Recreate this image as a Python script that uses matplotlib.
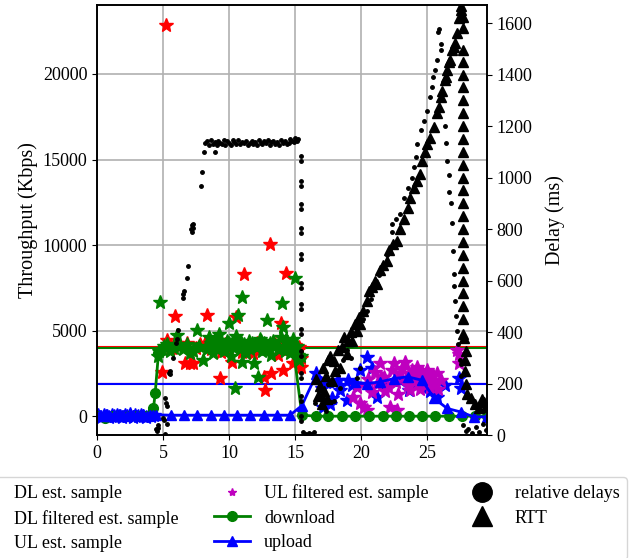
import matplotlib
matplotlib.use("Agg")
import matplotlib.pyplot as plt
from matplotlib.lines import Line2D

plt.rcParams['font.family'] = 'serif'
plt.rcParams['font.serif'] = ['Liberation Serif', 'DejaVu Serif']

# ---- DL est. sample (red stars, Kbps) ----
dl_est_t = [4.9, 5.2, 5.3, 5.5, 5.7, 5.9, 6.0, 6.3, 6.67, 6.8, 7.0, 7.3, 7.5, 7.8,
            8.2, 8.3, 8.6, 8.9, 9.3, 9.4, 9.7, 10.0, 10.2, 10.5, 10.8, 10.96, 11.1,
            11.4, 11.8, 12.1, 12.4, 12.6, 12.7, 12.9, 13.1, 13.2, 13.5, 13.7, 13.9,
            14.1, 14.3, 14.5, 14.85, 15.0, 15.2, 15.3, 15.4, 15.45]
dl_est_v = [2590, 22870, 4450, 3900, 3980, 5850, 4270, 4100, 3100, 4300, 3100, 3100,
            4000, 4200, 4270, 5900, 3950, 4100, 2220, 3760, 4200, 3950, 3180, 5770,
            4300, 3760, 8300, 4150, 3680, 4250, 3900, 2300, 1520, 4100, 10040, 2530,
            4200, 3570, 5460, 2690, 8380, 3900, 3100, 4150, 3860, 4040, 2880, 3400]

# ---- DL filtered est. sample (green stars, Kbps) ----
dl_filt_t = [4.6, 4.7, 4.77, 4.9, 5.1, 5.3, 5.5, 5.8, 6.04, 6.2, 6.5, 6.8, 7.0, 7.3,
             7.55, 7.7, 8.05, 8.3, 8.5, 8.6, 8.8, 8.9, 9.1, 9.2, 9.4, 9.6, 9.8, 9.95,
             10.1, 10.2, 10.45, 10.5, 10.7, 10.8, 10.96, 10.96, 11.1, 11.3, 11.5, 11.6,
             11.85, 12.0, 12.2, 12.3, 12.5, 12.6, 12.85, 13.0, 13.2, 13.3, 13.5, 13.7,
             13.9, 14.0, 14.1, 14.2, 14.4, 14.6, 14.8, 15.0, 15.1, 15.2, 15.3, 15.4,
             8.7, 9.0, 9.3, 9.7, 10.0, 10.4, 10.9, 11.2, 11.7, 12.1, 12.4, 12.8, 13.1,
             13.4, 13.8, 14.3, 14.5, 14.7]
dl_filt_v = [3500, 3800, 6690, 3900, 4100, 4200, 3800, 4000, 4740, 4100, 3900, 4200,
             3700, 3800, 5030, 4100, 3280, 3900, 4600, 4300, 3700, 4500, 3900, 4800,
             4200, 3800, 4400, 5420, 3500, 4300, 1620, 4680, 5900, 3900, 3180, 6980,
             4200, 3700, 4400, 3900, 3080, 4100, 2300, 4500, 3800, 4300, 5620, 4000,
             3600, 4400, 4100, 3900, 4600, 6590, 5230, 3800, 4300, 3700, 4500, 8050,
             4100, 3600, 3300, 3500,
             4000, 4200, 4450, 3950, 4300, 4000, 4350, 3850, 4250, 4050, 4400, 3900,
             4300, 4100, 3950, 4500, 4150, 4000]

# ---- UL est. sample (blue stars, Kbps) ----
ul_est_t = [0.1, 0.3, 0.5, 0.7, 0.9, 1.1, 1.3, 1.5, 1.7, 1.9, 2.1, 2.3, 2.5, 2.7, 2.9,
            3.1, 3.3, 3.5, 3.7, 3.9, 4.1, 4.3,
            16.6, 17.0, 17.1, 17.3, 17.65, 17.8, 18.2, 18.4, 18.9, 19.0, 19.3, 19.9,
            20.4, 20.8, 21.2, 21.8, 22.95, 23.6, 24.2, 24.6, 25.2, 25.7, 26.3, 27.35,
            27.5]
ul_est_v = [50, -20, 80, 30, -50, 60, 0, 90, 20, -40, 70, 10, 100, -30, 50,
            0, 80, 30, -20, 60, 40, 90,
            2500, 1620, 540, 2000, 740, 1050, 2100, 1520, 940, 2100, 1800, 2690,
            3470, 2790, 1130, 1900, 2100, 1520, 2000, 1710, 1500, 1130, 1800, 2220,
            1620]

# ---- UL filtered est. sample (magenta stars, Kbps) ----
ul_filt_t = [19.4, 19.7, 19.9, 20.2, 20.4, 20.5, 20.8, 21.0, 21.2, 21.4, 21.5, 21.7,
             21.8, 22.0, 22.2, 22.3, 22.45, 22.6, 22.7, 22.8, 22.95, 23.1, 23.3, 23.4,
             23.5, 23.7, 23.8, 23.9, 24.0, 24.2, 24.3, 24.4, 24.5, 24.6, 24.8, 24.9,
             25.0, 25.1, 25.2, 25.4, 25.5, 25.7, 25.8, 26.0, 27.25, 27.4, 27.4]
ul_filt_v = [1130, 1710, 760, 540, 350, 2200, 1420, 2600, 1900, 3080, 2300, 2300,
             1500, 1710, 540, 2700, 3080, 2000, 350, 1300, 2500, 2800, 3180, 2200,
             1800, 1520, 2700, 2500, 2000, 2890, 2300, 1600, 2100, 2600, 2400, 1900,
             2690, 2200, 1710, 2400, 2000, 2500, 1600, 2100, 3860, 3660, 3100]

# ---- download (green line, Kbps) ----
down_t = [0.0, 0.6, 1.2, 1.8, 2.4, 3.0, 3.6, 4.0, 4.27, 4.4, 4.65, 5.5, 6.5, 7.55,
          8.5, 9.5, 10.5, 11.5, 12.5, 13.5, 14.4, 14.9, 15.5, 16.6, 17.5, 18.5, 19.5,
          20.55, 21.6, 22.6, 23.6, 24.6, 25.6, 26.6, 27.6, 28.6, 29.5]
down_v = [0, -100, 0, 0, 0, 0, 0, 50, 450, 1330, 3670, 4050, 4050, 4050,
          4150, 4100, 4200, 4100, 4150, 4200, 4100, 3670, 60, 0, 0, 0, 0,
          0, 0, 0, 0, 0, 0, 0, 0, 0, 0]

# ---- upload (blue line, Kbps) ----
up_t = [0.0, 0.25, 0.5, 0.75, 1.0, 1.25, 1.5, 1.75, 2.0, 2.25, 2.5, 2.75, 3.0, 3.25,
        3.5, 3.75, 4.0, 4.25, 4.5, 5.6, 6.6, 7.6, 8.6, 9.6, 10.6, 11.6, 12.6, 13.6,
        14.6, 15.5, 16.6, 17.5, 18.4, 19.5, 20.4, 21.4, 22.45, 23.5, 24.6, 25.5,
        26.5, 27.5, 28.5, 29.5]
up_v = [20, 80, 0, 110, 40, 90, 10, 120, 60, 30, 100, 50, 70, 20, 110, 40, 90, 60,
        80, 60, 60, 60, 60, 60, 60, 60, 60, 60, 60, 620, 2450, 2000, 1810, 2000, 1910,
        2000, 2200, 2300, 2100, 1040, 450, 250, -40, -40]

# ---- reference levels (Kbps) ----
dl_est_level = 4060
dl_filt_level = 3960
ul_filt_level = 1960
ul_level = 1900

# ---- relative delays (black dots, ms) ----
rel_t = [4.5, 4.55, 4.6, 4.65, 5.0, 5.05, 5.15, 5.15, 5.2, 5.28, 5.3, 5.48, 5.53, 5.53,
         5.73, 5.98, 6.08, 6.16, 6.54, 6.5, 6.58, 6.8, 6.87,
         7.1, 7.15, 7.2, 7.25, 7.3, 7.88, 7.95, 8.1, 8.9,
         8.2, 8.35, 8.5, 8.6, 8.75, 8.9, 9.05, 9.15, 9.3, 9.45, 9.6, 9.7, 9.85, 10.0,
         10.15, 10.3, 10.4, 10.55, 10.7, 10.85, 11.0, 11.1, 11.25, 11.4, 11.55, 11.7,
         11.8, 11.95, 12.1, 12.25, 12.4, 12.5, 12.65, 12.8, 12.95, 13.1, 13.2, 13.35,
         13.5, 13.65, 13.8, 13.9, 14.05, 14.2, 14.35, 14.5, 14.6, 14.75, 14.9, 15.0,
         15.1, 15.2,
         15.45, 15.45, 15.45, 15.45, 15.45, 15.45, 15.45, 15.45, 15.45, 15.45, 15.45,
         15.45, 15.45, 15.45, 15.45, 15.45, 15.45, 15.45, 15.45, 15.45, 15.45, 15.45,
         15.45, 15.45,
         15.6, 15.8, 16.0, 16.2, 16.4,
         16.5, 16.8, 17.1, 17.3, 17.5, 17.7, 17.9, 18.1, 18.4, 18.6, 18.9, 19.2, 19.5,
         19.7, 19.9, 20.1, 20.4, 20.7, 21.0, 21.3, 21.6, 21.9, 22.2, 22.3, 22.3, 22.6,
         22.95, 23.2, 23.5, 23.8, 24.0, 24.1, 24.2, 24.5, 24.7, 25.0, 25.2, 25.36,
         25.45, 25.6, 25.7, 25.8, 25.85, 26.0, 26.05,
         26.3, 26.4, 26.5, 26.6, 26.65, 26.75, 26.85, 26.95, 27.0, 27.02, 27.1, 27.12,
         27.2, 27.3, 27.45, 27.5, 27.55,
         27.7, 27.9, 28.1, 28.4, 28.7, 28.9, 29.2, 29.4]
rel_ms = [25, 15, 40, 28, 67, 60, 4, 145, 126, 41, 113, 241, 249, 237,
          298, 359, 372, 408, 534, 548, 560, 610, 656,
          800, 815, 790, 820, 805, 968, 1020, 1100, 1100,
          1135, 1140, 1128, 1145, 1132, 1138, 1125, 1142, 1136, 1130, 1145, 1128, 1140,
          1133, 1126, 1144, 1137, 1131, 1146, 1129, 1139, 1134, 1141, 1127, 1136, 1143,
          1130, 1138, 1125, 1144, 1135, 1129, 1140, 1133, 1146, 1128, 1137, 1142, 1131,
          1139, 1126, 1144, 1134, 1140, 1129, 1136, 1150, 1143, 1138, 1152, 1140, 1148,
          1085, 1066, 988, 969, 899, 879, 805, 786, 704, 685, 591, 572, 510, 490,
          412, 393, 327, 307, 241, 222, 152, 132, 74, 54,
          10, 5, 8, 4, 12,
          124, 170, 144, 95, 200, 130, 132, 240, 183, 290, 330, 300, 390,
          222, 261, 450, 480, 530, 570, 620, 660, 700, 723, 787, 820, 840,
          860, 920, 960, 1000, 1039, 1078, 1132, 1183, 1221, 1260, 1311, 1350,
          1389, 1416, 1455, 1564, 1575, 1520, 1494,
          1200, 1136, 1066, 1008, 942, 900, 825, 716, 626, 580, 521, 463,
          405, 354, 290, 276, 230,
          40, 15, 25, 8, 30, 12, 43, 20]

# ---- RTT (black triangles, ms) ----
rtt_t = [16.6, 16.7, 16.9, 17.0, 17.1, 17.2, 17.3, 17.4, 17.5, 17.65, 17.8, 17.9,
         18.0, 18.2, 18.4, 18.5, 18.7, 18.9, 19.0, 19.2, 19.3, 19.5, 19.7, 19.8, 19.9,
         20.1, 20.4, 20.6, 20.8, 21.0, 21.2, 21.4, 21.6, 21.9, 22.1, 22.4, 22.7, 22.9,
         23.2, 23.5, 23.7, 24.0, 24.2, 24.4, 24.6, 24.8, 24.98, 25.2, 25.5, 25.7,
         25.85, 26.0, 26.1, 26.3, 26.4, 26.5, 26.6, 26.7, 26.85, 26.97, 27.1, 27.25,
         27.4, 27.5, 27.55,
         27.7, 27.7, 27.7, 27.7, 27.7, 27.7, 27.7, 27.7, 27.7, 27.7, 27.7, 27.7, 27.7,
         27.7, 27.7, 27.7, 27.7, 27.7, 27.7, 27.7, 27.7, 27.7, 27.7, 27.7, 27.7, 27.75,
         27.9, 27.8, 27.85, 27.9, 28.0, 28.3, 28.6, 28.9, 29.1, 29.3, 29.45]
rtt_ms = [218, 150, 190, 120, 261, 170, 230, 140, 290, 307, 210, 288,
          250, 330, 261, 340, 380, 315, 366, 400, 366, 430, 405, 460, 432,
          480, 521, 560, 575, 600, 587, 640, 660, 677, 720, 740, 755, 800,
          840, 883, 920, 961, 988, 1015, 1066, 1100, 1132, 1155, 1195, 1250,
          1272, 1311, 1338, 1377, 1389, 1416, 1447, 1455, 1494, 1506, 1521, 1560,
          1618, 1650, 1665,
          1622, 1580, 1494, 1447, 1400, 1350, 1300, 1250, 1200, 1150, 1100, 1050, 1000,
          950, 900, 850, 800, 750, 700, 650, 600, 550, 500, 450, 393, 377,
          327, 290, 250, 200, 159, 144, 120, 105, 140, 130, 110]

labels = ['DL est. sample', 'DL filtered est. sample', 'UL est. sample',
          'UL filtered est. sample', 'download', 'upload', 'relative delays', 'RTT']

fig = plt.figure(figsize=(6.36, 5.58), dpi=100)
ax = fig.add_axes([0.1525, 0.2204, 0.6132, 0.7706])
ax2 = ax.twinx()

ax.grid(True, color='#b0b0b0', linewidth=1.2)
ax.set_axisbelow(True)

ax.axhline(dl_est_level, color='red', lw=1.5)
ax.axhline(dl_filt_level, color='green', lw=1.5)
ax.axhline(ul_filt_level, color='m', lw=1.0, alpha=0.5)
ax.axhline(ul_level, color='blue', lw=1.5)

ax.plot(dl_est_t, dl_est_v, '*', color='red', ms=10)
ax.plot(dl_filt_t, dl_filt_v, '*', color='green', ms=10)
ax.plot(ul_est_t, ul_est_v, '*', color='blue', ms=10)
ax.plot(ul_filt_t, ul_filt_v, '*', color='m', ms=10)
ax.plot(down_t, down_v, '-o', color='green', lw=2, ms=7)
ax.plot(up_t, up_v, '-^', color='blue', lw=2, ms=7)

ax2.plot(rel_t, rel_ms, 'o', color='black', ms=2.5)
ax2.plot(rtt_t, rtt_ms, '^', color='black', ms=7)

ax.set_xlim(0, 29.5)
ax.set_ylim(-1100, 24030)
ax2.set_ylim(0, 1670)
ax.set_xticks([0, 5, 10, 15, 20, 25])
ax.set_yticks([0, 5000, 10000, 15000, 20000])
ax2.set_yticks(range(0, 1601, 200))

ax.set_ylabel('Throughput (Kbps)', fontsize=14.5, labelpad=3)
ax2.set_ylabel('Delay (ms)', fontsize=14.5, labelpad=9)
ax.tick_params(labelsize=13)
ax2.tick_params(labelsize=13)
for a in (ax, ax2):
    for s in a.spines.values():
        s.set_linewidth(1.2)

handles = [
    Line2D([], [], marker='*', color='red', ls='none', ms=6),
    Line2D([], [], marker='*', color='green', ls='none', ms=6),
    Line2D([], [], marker='*', color='blue', ls='none', ms=6),
    Line2D([], [], marker='*', color='m', ls='none', ms=6),
    Line2D([], [], marker='o', color='green', lw=2, ms=7),
    Line2D([], [], marker='^', color='blue', lw=2, ms=7),
    Line2D([], [], marker='o', color='black', ls='none', ms=14),
    Line2D([], [], marker='^', color='black', ls='none', ms=14),
]
fig.legend(handles, labels, ncol=3, loc='upper left', fontsize=13,
           labelspacing=0.42, columnspacing=1.95,
           bbox_to_anchor=(-0.069, 0.145), borderaxespad=0)

fig.savefig('out.png', dpi=100)
